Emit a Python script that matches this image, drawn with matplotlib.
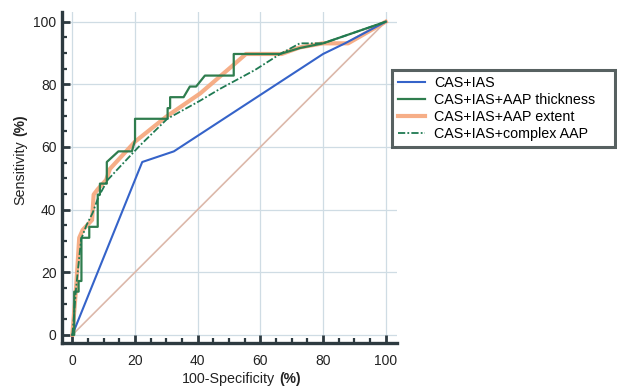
import matplotlib
matplotlib.use("Agg")
import matplotlib.pyplot as plt
from matplotlib.ticker import MultipleLocator

plt.rcParams['font.family'] = ['Liberation Sans', 'DejaVu Sans']

# ROC data (100-Specificity %, Sensitivity %)
cas_ias_x = [0, 22.3, 32.4, 80.0, 87.0, 100]
cas_ias_y = [0, 55.2, 58.6, 89.7, 93.1, 100]

thick_x = [0, 0.6, 0.6, 2.0, 2.0, 2.9, 2.9, 5.4, 5.4, 8.1, 8.1, 8.8, 8.8, 11.0, 11.0,
           14.7, 19.0, 20.0, 20.0, 30.4, 30.4, 31.2, 31.2, 35.5, 37.5, 39.5, 42.3,
           51.5, 51.5, 66.3, 72.6, 80.0, 100]
thick_y = [0, 0, 13.8, 13.8, 17.2, 17.2, 31.0, 31.0, 34.5, 34.5, 44.8, 44.8, 48.3, 48.3, 55.2,
           58.6, 58.6, 62.1, 69.0, 69.0, 72.4, 72.4, 75.9, 75.9, 79.3, 79.3, 82.8,
           82.8, 89.7, 89.7, 91.6, 93.1, 100]

extent_x = [0, 1.2, 2.2, 3.3, 6.3, 6.8, 8.1, 10.8, 12.0, 20.0, 30.0, 40.8, 51.4, 55.4,
            66.8, 72.6, 80.0, 88.0, 100]
extent_y = [0, 15.0, 31.0, 33.5, 36.7, 44.8, 46.5, 49.5, 53.0, 61.7, 69.7, 77.1, 86.2, 89.7,
            89.7, 91.8, 93.1, 93.1, 100]

complex_x = [0, 0.5, 1.2, 2.8, 4.5, 6.5, 8.3, 11.3, 15.0, 21.6, 30.3, 40.8, 47.0, 58.3,
             66.3, 72.6, 80.0, 100]
complex_y = [0, 6.0, 15.0, 30.5, 35.0, 39.0, 44.0, 49.5, 53.5, 60.5, 69.0, 74.8, 78.5, 84.6,
             89.7, 93.1, 93.1, 100]

ref_x = [0, 100]
ref_y = [0, 100]

labels = ["CAS+IAS", "CAS+IAS+AAP thickness", "CAS+IAS+AAP extent", "CAS+IAS+complex AAP"]

W, H = 617, 387
fig = plt.figure(figsize=(W / 100, H / 100), dpi=100)
ax = fig.add_axes([62 / W, 1 - 343 / H, (396.7 - 62) / W, (343 - 11.7) / H])

ax.set_xlim(-3.3, 103.5)
ax.set_ylim(-2.6, 103.2)

for v in range(0, 101, 20):
    ax.axvline(v, color='#cfdce4', lw=0.9, zorder=1)
    ax.axhline(v, color='#cfdce4', lw=0.9, zorder=1)

ax.plot(ref_x, ref_y, color='#dcb8aa', lw=1.2, zorder=2)
l1, = ax.plot(cas_ias_x, cas_ias_y, color='#3563c9', lw=1.5, zorder=4, label=labels[0])
l3, = ax.plot(extent_x, extent_y, color='#f5a57a', lw=3.0, alpha=0.9, zorder=3, label=labels[2])
l2, = ax.plot(thick_x, thick_y, color='#2f7d4e', lw=1.6, zorder=5, label=labels[1])
l4, = ax.plot(complex_x, complex_y, color='#1f7a52', lw=1.3, ls=(0, (4, 1.2, 1, 1.2)), zorder=6,
              label=labels[3])

for s in ['top', 'right']:
    ax.spines[s].set_visible(False)
for s in ['left', 'bottom']:
    ax.spines[s].set_color('#2d3a40')
    ax.spines[s].set_linewidth(2.4)

ax.xaxis.set_major_locator(MultipleLocator(20))
ax.xaxis.set_minor_locator(MultipleLocator(5))
ax.yaxis.set_major_locator(MultipleLocator(20))
ax.yaxis.set_minor_locator(MultipleLocator(5))
ax.tick_params(which='major', direction='in', length=6, width=2, color='#2d3a40',
               labelsize=10, labelcolor='#222222')
ax.tick_params(which='minor', direction='in', length=3.5, width=1.6, color='#2d3a40')
ax.tick_params(axis='x', which='major', pad=8)
ax.tick_params(axis='y', which='major', pad=4)

x0, x1 = 391.7 / W, 615 / W
ytop = 1 - 70 / H
leg = fig.legend(handles=[l1, l2, l3, l4], labels=labels, loc='upper left',
                 bbox_to_anchor=(x0, ytop - 0.2, x1 - x0, 0.2), mode='expand', borderaxespad=0,
                 fontsize=10.3, frameon=True, fancybox=False, handlelength=1.9,
                 labelspacing=0.2, handletextpad=0.6, borderpad=0.45)
fr = leg.get_frame()
fr.set_edgecolor('#2d3a3a')
fr.set_linewidth(2.2)

# axis labels with bold (%)
fig.text(181.7 / W, 1 - 382.5 / H, "100-Specificity", fontsize=10.3, ha='left',
         va='baseline', color='#222222')
fig.text(279 / W, 1 - 382.5 / H, "(%)", fontsize=10, fontweight='bold', ha='left',
         va='baseline', color='#222222')
fig.text(20 / W, 1 - 205 / H, "Sensitivity", fontsize=10.3, rotation=90, ha='center',
         va='bottom', color='#222222')
fig.text(20 / W, 1 - 136 / H, "(%)", fontsize=10, fontweight='bold', rotation=90,
         ha='center', va='bottom', color='#222222')

fig.savefig("out.png", dpi=100)
